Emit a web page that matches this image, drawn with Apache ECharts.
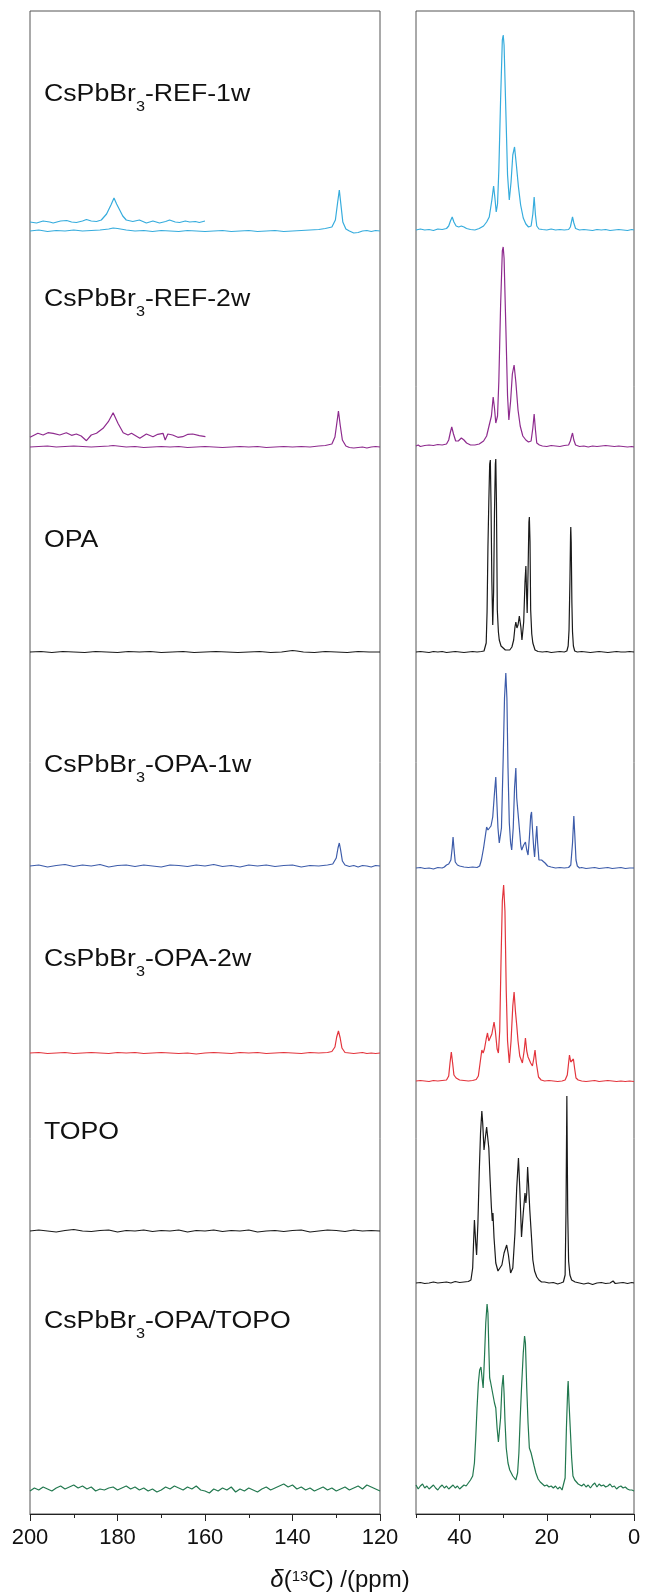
<!DOCTYPE html>
<html lang="en">
<head>
<meta charset="UTF-8">
<title>13C NMR</title>
<script src="https://cdn.jsdelivr.net/npm/echarts@6/dist/echarts.min.js"></script>
<style>html,body{margin:0;padding:0;background:#fff;}</style>
</head>
<body>
<div id="nmr_chart" style="width:648px;height:1596px;"></div>
<script type="text/javascript">
// samples, top to bottom
var sampleNames = ['CsPbBr3-REF-1w', 'CsPbBr3-REF-2w', 'OPA', 'CsPbBr3-OPA-1w', 'CsPbBr3-OPA-2w', 'TOPO', 'CsPbBr3-OPA/TOPO'];
var sampleColors = ['#36ACDD', '#8E2B8E', '#1a1a1a', '#3D5CAA', '#E3343C', '#1a1a1a', '#22784F'];

// vertical stacking offsets (same units as intensities)
var leftOffsets = [1283, 1067, 862, 648, 461, 283, 24];
var rightOffsets = [1284, 1068, 862, 646, 433, 231, 26];
var upperTraceOffsets = [1292, 1079];

var leftTicks = [200, 180, 160, 140, 120];
var rightTicks = [40, 20, 0];

// ---- 200-120 ppm region: [ppm, intensity] ----
var ref1wUpper = [[200,0],[198.5,-1],[197,1],[195.5,0],[194.7,-1],[193,1],[191.6,1.5],[190.5,0],[189.4,-0.5],[188,1],[187.1,2.5],[186,1],[184.8,0.5],[183.7,2],[182.5,8],[181.5,17],[180.8,24],[180.2,18],[179.5,12],[178.8,6],[178,2],[176.5,0.5],[175,2],[173.4,-1],[171.9,1],[170.4,-1],[169,0.5],[168.1,2],[166.8,0],[165.8,-0.5],[164.5,1],[163.5,0],[162.2,0.5],[161.3,-0.5],[160,1]];
var ref1wLeft = [[200,0],[198,1],[196,-0.5],[194,0.5],[192,0],[190,1],[188,0],[186,0.5],[184,1],[182,2],[181,3],[180,2.5],[178,1],[176,0],[174,0.5],[172,-0.5],[170,0.5],[168,0],[166,-0.5],[164,0.5],[162,0],[160,-0.5],[158,0],[156,0.5],[154,-0.5],[152,0],[150,0.5],[148,-0.5],[146,0],[144,0.5],[142,-0.5],[140,0],[138,0.5],[136,1],[134,1.5],[132.5,2.5],[131,4],[130.2,11],[129.7,28],[129.3,41],[128.9,25],[128.5,9],[127.8,2],[127,0],[126,-2],[125,-1.5],[124,0],[123,0.5],[122,-0.5],[121,0.5],[120,0]];
var ref2wUpper = [[200,-2.3],[198.2,1.7],[197,0],[195.9,2.3],[194.7,1.7],[193.2,0],[191.7,2.3],[190.5,-0.3],[189.4,1],[188.3,-1],[187.1,-5.7],[186,0],[184.8,1.7],[183.3,6.7],[182.1,13.3],[181,22.3],[179.9,11.7],[178.7,2.3],[177.6,0],[176.8,1.7],[174.9,-3.3],[173.4,1],[171.9,-1.7],[170.8,0.7],[169.6,1.7],[169.1,-5],[168.5,1],[167.4,0],[166.2,-2.3],[165.1,-1.7],[163.9,0.7],[162.8,1],[161.3,-0.7],[159.9,-1.7]];
var ref2wLeft = [[200,0],[198,0.5],[196,1],[194,0],[192,0.5],[190,1],[188,0.5],[186,0],[184,0.5],[182,1],[181,1.5],[180,1],[178,0],[176,0.5],[174,-0.5],[172,0],[170,0.5],[168,0],[166,0.5],[164,-0.5],[162,0],[160,0.5],[158,0],[156,-0.5],[154,0],[152,0.5],[150,0],[148,0.5],[146,-0.5],[144,0],[142,0.5],[140,0],[138,0.5],[136,0],[134,1],[132.5,1.5],[131,3],[130.3,10],[129.8,26],[129.5,36],[129.1,22],[128.6,7],[127.8,1],[127,-0.5],[126,-1],[125,-0.5],[124,0],[123,-1],[122,0],[121,0.5],[120,0]];
var opaLeft = [[200,0],[197.5,0.5],[195,-0.5],[192.5,0.5],[190,0],[187.5,-0.5],[185,0.5],[182.5,0],[180,-0.5],[177.5,0.5],[175,0],[172.5,0.5],[170,-0.5],[167.5,0],[165,0.5],[162.5,-0.5],[160,0],[157.5,0.5],[155,0],[152.5,-0.5],[150,0],[147.5,0.5],[145,-0.5],[142.5,0],[140,1.5],[139,1],[137.5,0],[135,-0.5],[132.5,0.5],[130,0],[127.5,-0.5],[125,0.5],[122.5,0],[120,0]];
var opa1wLeft = [[200,0],[198,1],[196,-1],[194,0.5],[192,1.5],[190,-0.5],[188,1],[186,0],[184,1.5],[182,-1],[180,0.5],[178,1],[176,-0.5],[174,1],[172,0],[170,-1],[168,1],[166,0.5],[164,-0.5],[162,1],[160,0],[158,1.5],[156,-0.5],[154,0.5],[152,-1],[150,1],[148,0],[146,1],[144,-0.5],[142,0.5],[140,1],[138,-1],[136,0.5],[134,0],[132,1],[130.8,2],[130,8],[129.6,18],[129.3,23],[129,16],[128.6,5],[128,1],[127,-0.5],[126,0.5],[125,-1],[124,0.5],[123,0],[122,-1],[121,0.5],[120,0]];
var opa2wLeft = [[200,0],[198,0.5],[196,-0.5],[194,0],[192,0.5],[190,-0.5],[188,0],[186,0.5],[184,0],[182,-0.5],[180,0.5],[178,0],[176,0.5],[174,-0.5],[172,0],[170,0.5],[168,0],[166,-0.5],[164,0],[162,-1],[160,0],[158,0.5],[156,0],[154,-0.5],[152,0.5],[150,0],[148,0.5],[146,-0.5],[144,0],[142,0.5],[140,0],[138,-0.5],[136,0.5],[134,0],[132,0.5],[131,1.5],[130.3,6],[129.9,16],[129.5,22],[129.1,15],[128.7,5],[128,0.5],[127,0],[126,-0.5],[125,0],[124,0.5],[123,-0.5],[122,0],[121,-0.5],[120,0]];
var topoLeft = [[200,0],[198,1],[196,0],[194,-1],[192,0.5],[190,1.5],[188,0],[186,-0.5],[184,0.5],[182,1],[180,-1],[178,0.5],[176,0],[174,1],[172,-0.5],[170,0.5],[168,0],[166,1],[164,-1],[162,0.5],[160,0],[158,1],[156,-0.5],[154,0.5],[152,0],[150,1],[148,-1],[146,0],[144,0.5],[142,-0.5],[140,0.5],[138,1],[136,-1],[134,0],[132,1],[130,0.5],[128,-0.5],[126,1],[124,0],[122,0.5],[120,0]];
var mixLeft = [[200,-1],[199,2],[198,0],[197,3],[196,1],[195,-1],[194,2],[193,4],[192,1],[191,3],[190,5],[189,2],[188,4],[187,1],[186,3],[185,-1],[184,1],[183,0],[182,2],[181,3],[180,0],[179,2],[178,4],[177,1],[176,3],[175,0],[174,2],[173,-1],[172,1],[171,-2],[170,0],[169,3],[168,1],[167,4],[166,2],[165,0],[164,3],[163,1],[162,4],[161,0],[160,-1],[159,-3],[158,1],[157,-1],[156,2],[155,0],[154,3],[153,-2],[152,1],[151,-1],[150,2],[149,0],[148,-2],[147,1],[146,3],[145,0],[144,2],[143,4],[142,6],[141,3],[140,5],[139,1],[138,3],[137,0],[136,2],[135,-1],[134,1],[133,3],[132,0],[131,2],[130,-1],[129,1],[128,3],[127,0],[126,2],[125,4],[124,1],[123,5],[122,3],[121,1],[120,-1]];

// ---- 50-0 ppm region: [ppm, intensity] ----
var ref1wRight = [[50,0],[49,1],[48,0],[47,0.5],[46,-0.5],[45,1],[44,0.5],[43,1.5],[42.5,4],[42.1,9],[41.7,13],[41.3,8],[40.8,4],[40.2,3],[39.6,4],[39,3],[38.4,1.5],[37.5,0.5],[36.5,0],[35.5,1.5],[34.5,4],[33.8,8],[33.2,13],[32.6,30],[32.2,44],[31.9,32],[31.6,18],[31.3,26],[31,60],[30.6,130],[30.2,190],[30,195],[29.8,185],[29.4,120],[29,55],[28.6,30],[28.2,48],[27.8,75],[27.4,83],[27,66],[26.5,43],[26,25],[25.4,12],[24.8,6],[24.2,3],[23.6,4],[23.2,16],[22.9,33],[22.6,15],[22.3,4],[21.8,1],[21,0.5],[20,0],[19,1],[18,0],[17,0.5],[16,0],[15,0.5],[14.6,3],[14.3,9],[14.1,13],[13.8,7],[13.4,1.5],[12.5,0],[11.5,0.5],[10.5,0],[9.5,-0.5],[8.5,0.5],[7.5,0],[6.5,0.5],[5.5,-0.5],[4.5,0],[3.5,0.5],[2.5,0],[1.5,-0.5],[0.5,0.5],[0,0]];
var ref2wRight = [[50,0],[49.5,1],[49,-0.5],[48,0.5],[47,1],[46,0.5],[45,1.5],[44,1],[43,2],[42.5,6],[42.1,14],[41.8,19],[41.4,12],[40.9,5],[40.3,5],[39.6,8],[39,6],[38.4,3],[37.5,1],[36.5,1],[35.5,2],[34.5,5],[33.8,10],[33.2,21],[32.7,30],[32.3,49],[32,38],[31.7,23],[31.3,30],[31,65],[30.6,140],[30.2,195],[30,199],[29.8,188],[29.4,120],[29,50],[28.7,26],[28.3,45],[27.9,72],[27.5,81],[27.1,64],[26.6,36],[26.1,20],[25.5,10],[24.8,6],[24.2,4],[23.6,5],[23.2,18],[22.9,32],[22.6,16],[22.3,3],[21.7,1],[21,0],[20,-0.5],[19,0.5],[18,0],[17,-0.5],[16,0.5],[15,1],[14.6,5],[14.3,10],[14.1,13],[13.8,6],[13.4,1],[12.5,-0.5],[11.5,0],[10.5,-1],[9.5,0],[8.5,-0.5],[7.5,0],[6.5,0.5],[5.5,0],[4.5,-0.5],[3.5,0],[2.5,-0.5],[1.5,-1],[0.5,-0.5],[0,-1]];
var opaRight = [[50,0],[49,0.5],[48,0],[47,-0.5],[46,0.5],[45,0],[44,0.5],[43,-0.5],[42,0],[41,0.5],[40,0],[39,-0.5],[38,0],[37,0.5],[36,0],[35,0.5],[34.4,1],[34.1,3],[33.9,9],[33.7,40],[33.5,105],[33.3,150],[33.1,188],[32.95,192],[32.8,150],[32.6,70],[32.4,27],[32.2,60],[32,140],[31.8,188],[31.7,193],[31.55,150],[31.35,42],[31.1,20],[30.9,12],[30.5,6],[30,4],[29.5,2],[29,2],[28.5,2],[28,5],[27.6,12],[27.3,25],[27.1,30],[26.85,24],[26.6,27],[26.3,36],[26.15,38],[25.95,25],[25.7,12],[25.3,30],[25,70],[24.8,86],[24.65,60],[24.5,39],[24.3,80],[24.1,130],[24,135],[23.85,110],[23.7,42],[23.45,18],[23.2,9],[22.7,2],[22,0.5],[21,0],[20,0.5],[19,-0.5],[18,0],[17,0.5],[16,0],[15.4,1],[15.1,6],[14.9,22],[14.7,70],[14.55,118],[14.5,125],[14.4,110],[14.25,50],[14.1,20],[13.9,6],[13.6,1],[13,0],[12,0.5],[11,0],[10,-0.5],[9,0],[8,0.5],[7,0],[6,-0.5],[5,0],[4,0.5],[3,0],[2,0],[1,0.5],[0,0]];
var opa1wRight = [[50,0],[49,0.5],[48,-0.5],[47,0],[46,-1],[45,0.5],[44,0],[43.5,1],[43,3],[42.5,4],[42,8],[41.7,20],[41.5,31],[41.3,20],[41,6],[40.5,3],[40,2],[39,1],[38,0.5],[37,1],[36,0.5],[35.4,2],[35,8],[34.5,20],[34.1,32],[33.8,41],[33.5,38],[33.2,36],[32.8,42],[32.4,51],[32,75],[31.7,91],[31.5,70],[31.2,40],[30.9,25],[30.7,23],[30.4,40],[30,110],[29.7,170],[29.4,195],[29.15,170],[28.9,100],[28.6,45],[28.3,25],[28.05,18],[27.7,40],[27.4,80],[27.1,100],[26.9,70],[26.6,55],[26.4,53],[26.2,35],[25.95,22],[25.75,18],[25.3,23],[24.9,26],[24.6,18],[24.3,13],[24,30],[23.7,52],[23.5,56],[23.3,40],[23,20],[22.8,11],[22.5,30],[22.3,42],[22.1,25],[21.8,8],[21.5,8],[21.2,8],[20.8,6],[20.4,5],[19.8,2],[19,1],[18,0],[17,0.5],[16,0],[15,0.5],[14.5,3],[14.1,25],[13.8,52],[13.6,35],[13.3,8],[13,2],[12.5,0],[12,0.5],[11,-0.5],[10,0],[9,0.5],[8,-0.5],[7,0],[6,0.5],[5,-0.5],[4,0],[3,0.5],[2,-0.5],[1,0],[0,0]];
var opa2wRight = [[50,0],[49,0.5],[48,0],[47,-0.5],[46,0.5],[45,0],[44,0.5],[43,1],[42.5,5],[42.2,18],[41.9,29],[41.6,18],[41.3,6],[40.8,3],[40,1],[39,0.5],[38,0],[37,0.5],[36.2,1.5],[35.7,5],[35.3,18],[34.9,31],[34.6,28],[34.3,32],[33.9,42],[33.6,48],[33.3,40],[33,38],[32.6,47],[32.1,59],[31.8,50],[31.4,32],[31.1,28],[30.8,50],[30.5,120],[30.2,180],[29.9,196],[29.6,170],[29.3,90],[29,40],[28.6,18],[28.2,40],[27.8,75],[27.5,89],[27.2,70],[26.9,56],[26.6,40],[26.2,25],[25.6,18],[25.2,30],[24.9,43],[24.6,30],[24.3,24],[24.1,23],[23.7,18],[23.3,15],[23,22],[22.7,31],[22.4,18],[21.9,4],[21.3,1],[20.5,0],[19.5,0.5],[18.5,0],[17.5,-0.5],[16.5,0],[15.8,1],[15.3,6],[15,18],[14.8,26],[14.5,19],[14.2,20],[13.9,22],[13.6,12],[13.3,3],[12.8,1],[12,0],[11,-0.5],[10,0],[9,0.5],[8,-0.5],[7,0],[6,0.5],[5,0],[4,-0.5],[3,0],[2,-0.5],[1,0],[0,-0.5]];
var topoRight = [[50,0],[49,0.5],[48,-0.5],[47,0],[46,1],[45,0],[44,0.5],[43,1],[42,0],[41,1.5],[40,0.5],[39,1],[38,1.5],[37.4,3],[37,15],[36.8,40],[36.6,63],[36.3,40],[36.1,28],[35.8,60],[35.5,110],[35.2,150],[34.9,172],[34.7,160],[34.4,133],[34.1,145],[33.8,156],[33.6,156],[33.3,135],[33,103],[32.7,75],[32.5,62],[32.35,70],[32.1,45],[31.7,20],[31.2,12],[30.8,10],[30.3,18],[29.8,30],[29.2,38],[28.8,28],[28.3,10],[27.8,15],[27.3,50],[26.9,95],[26.5,125],[26.2,95],[25.8,46],[25.4,70],[25,90],[24.8,80],[24.6,90],[24.4,116],[24.2,100],[23.9,73],[23.5,45],[23.2,23],[22.8,12],[22.3,6],[21.8,3],[21.2,1],[20.5,1],[19.5,0],[18.5,0.5],[17.5,-1],[16.8,0],[16.2,1],[15.8,8],[15.6,70],[15.4,187],[15.2,70],[15,22],[14.7,8],[14.3,3],[13.5,1],[12.5,0],[11.5,-1],[10.5,0],[9.5,-1.5],[8.5,0],[7.5,0.5],[6.5,-0.5],[5.5,0],[4.8,2],[4.3,-0.5],[3.5,0],[2.5,0.5],[1.5,-0.5],[0.5,0.5],[0,0]];
var mixRight = [[50,3],[49.5,-1],[49,2],[48.5,4],[48,0],[47.5,2],[47,-1],[46.5,1],[46,3],[45.5,0],[45,-2],[44.5,1],[44,3],[43.5,0],[43,2],[42.5,-1],[42,1],[41.5,3],[41,0],[40.5,2],[40,-1],[39.5,1],[39,3],[38.5,2],[38,5],[37.5,8],[37,12],[36.6,25],[36.3,50],[36,80],[35.7,105],[35.4,118],[35.1,121],[34.8,108],[34.6,100],[34.3,130],[34,165],[33.7,184],[33.5,175],[33.3,140],[33.1,110],[32.9,106],[32.6,104],[32.3,92],[32,85],[31.7,80],[31.4,60],[31.1,46],[30.9,48],[30.6,70],[30.3,100],[30,113],[29.8,95],[29.6,68],[29.3,40],[28.9,25],[28.5,18],[28.2,16],[27.8,12],[27.5,10],[27.1,8],[26.7,15],[26.4,35],[26.1,70],[25.8,100],[25.4,135],[25.1,152],[24.9,145],[24.6,100],[24.3,65],[24,40],[23.6,35],[23.2,33],[22.9,22],[22.5,15],[22,9],[21.5,6],[21,4],[20.5,2],[20,3],[19.5,1],[19,2],[18.5,0],[18,2],[17.5,-1],[17,1],[16.5,-2],[16.2,-3],[15.8,10],[15.5,60],[15.2,100],[15.1,107],[14.9,85],[14.6,58],[14.3,30],[14,12],[13.6,8],[13.2,7],[12.8,4],[12.4,5],[12,2],[11.5,4],[11,1],[10.5,3],[10,0],[9.5,3],[9,5],[8.5,1],[8,4],[7.5,2],[7,3],[6.5,1],[6,2],[5.5,4],[5,1],[4.5,2],[4,-1],[3.5,1],[3,2],[2.5,0],[2,1],[1.5,-1],[1,-2],[0.5,-2],[0,-3]];

var leftSpectra = [ref1wLeft, ref2wLeft, opaLeft, opa1wLeft, opa2wLeft, topoLeft, mixLeft];
var rightSpectra = [ref1wRight, ref2wRight, opaRight, opa1wRight, opa2wRight, topoRight, mixRight];
var upperTraces = [ref1wUpper, ref2wUpper];

// ---------- layout ----------
var PLOT_TOP = 11, PLOT_H = 1503;
var FONT = '"Liberation Sans", Arial, sans-serif';
var labelY = [95, 300, 541, 766, 960, 1133, 1322];

function shift(pts, off) {
	return pts.map(function (p) { return [p[0], p[1] + off]; });
}

function lineSeries(data, color, gridIdx, xIdx) {
	return {
		type: 'line', data: data, xAxisIndex: xIdx, yAxisIndex: gridIdx,
		showSymbol: false, symbol: 'none', silent: true, clip: true,
		lineStyle: { color: color, width: 1.2 }
	};
}

var series = [];
for (var i = 0; i < sampleNames.length; i++) {
	series.push(lineSeries(shift(leftSpectra[i], leftOffsets[i]), sampleColors[i], 0, 0));
	series.push(lineSeries(shift(rightSpectra[i], rightOffsets[i]), sampleColors[i], 1, 1));
}
for (var j = 0; j < upperTraces.length; j++) {
	series.push(lineSeries(shift(upperTraces[j], upperTraceOffsets[j]), sampleColors[j], 0, 0));
}

// sample labels, "3" as subscript
var labels = sampleNames.map(function (name, k) {
	var txt = name.indexOf('CsPbBr3') === 0
		? '{n|CsPbBr}{s|3}{n|' + name.slice(7) + '}'
		: '{n|' + name + '}';
	return {
		type: 'text', x: 44, y: labelY[k], scaleX: 1.16, silent: true,
		style: {
			text: txt, align: 'left', verticalAlign: 'middle', fill: '#111',
			rich: {
				n: { fontSize: 23, fontFamily: FONT, lineHeight: 38, fill: '#111' },
				s: { fontSize: 14, fontFamily: FONT, verticalAlign: 'bottom', fill: '#111' }
			}
		}
	};
});

// axis title
labels.push({
	type: 'text', x: 340, y: 1580, silent: true,
	style: {
		text: '{i|δ}{n|(}{p|13}{n|C) /(ppm)}', align: 'center', verticalAlign: 'middle', fill: '#111',
		rich: {
			i: { fontSize: 24, fontFamily: FONT, fontStyle: 'italic', lineHeight: 22, fill: '#111' },
			n: { fontSize: 24, fontFamily: FONT, lineHeight: 22, fill: '#111' },
			p: { fontSize: 15, fontFamily: FONT, verticalAlign: 'top', fill: '#111' }
		}
	}
});

var axisLabelStyle = { fontSize: 22, fontFamily: FONT, color: '#111', margin: 13 };

var chart = echarts.init(document.getElementById('nmr_chart'));
chart.setOption({
	animation: false,
	backgroundColor: '#fff',
	grid: [
		{ left: 30, top: PLOT_TOP, width: 350, height: PLOT_H, show: true, borderColor: '#555', borderWidth: 1, outerBoundsMode: 'none' },
		{ left: 416, top: PLOT_TOP, width: 218, height: PLOT_H, show: true, borderColor: '#555', borderWidth: 1, outerBoundsMode: 'none' }
	],
	xAxis: [
		{
			gridIndex: 0, type: 'value', position: 'bottom', min: 120, max: 200, interval: 20, inverse: true,
			axisLine: { lineStyle: { color: '#222', width: 1 } },
			axisTick: { length: 7, lineStyle: { color: '#222' } },
			minorTick: { show: true, splitNumber: 2, length: 4, lineStyle: { color: '#222' } },
			splitLine: { show: false },
			axisLabel: axisLabelStyle
		},
		{
			gridIndex: 1, type: 'value', position: 'bottom', min: 0, max: 50, interval: 10, inverse: true,
			axisLine: { lineStyle: { color: '#222', width: 1 } },
			axisTick: { length: 4, lineStyle: { color: '#222' } },
			splitLine: { show: false },
			axisLabel: { show: false }
		},
		{
			gridIndex: 1, type: 'value', position: 'bottom', offset: 0, min: 0, max: 50, interval: 20, inverse: true,
			axisLine: { show: false },
			axisTick: { length: 7, customValues: rightTicks, lineStyle: { color: '#222' } },
			splitLine: { show: false },
			axisLabel: Object.assign({ customValues: rightTicks }, axisLabelStyle)
		}
	],
	yAxis: [
		{ gridIndex: 0, type: 'value', min: 0, max: PLOT_H, show: false },
		{ gridIndex: 1, type: 'value', min: 0, max: PLOT_H, show: false }
	],
	series: series,
	graphic: labels
});
</script>
</body>
</html>
